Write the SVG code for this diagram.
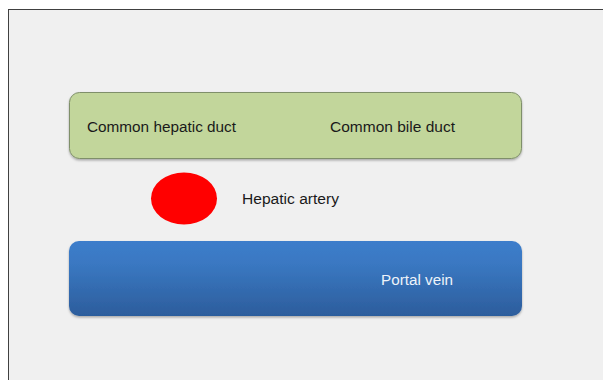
<svg xmlns="http://www.w3.org/2000/svg" width="603" height="380" viewBox="0 0 603 380">
<defs>
<linearGradient id="blue" x1="0" y1="0" x2="0" y2="1">
<stop offset="0" stop-color="#3c7dcb"/>
<stop offset="0.3" stop-color="#3a78c2"/>
<stop offset="1" stop-color="#2c5d9c"/>
</linearGradient>
<filter id="sh" x="-5%" y="-10%" width="110%" height="130%">
<feDropShadow dx="0" dy="1.5" stdDeviation="1.2" flood-color="#000" flood-opacity="0.3"/>
</filter>
</defs>
<style>
.t{font-family:"Liberation Sans",Arial,sans-serif;font-size:14.7px;fill:#1a1a1a}
</style>
<rect x="0" y="0" width="603" height="380" fill="#ffffff"/>
<rect x="8.5" y="9.5" width="600" height="380" fill="#f0f0f0" stroke="#404040" stroke-width="1"/>
<g id="bile-ducts">
<rect x="69.5" y="92.5" width="452" height="66" rx="10" fill="#c2d69b" stroke="#7f8f6a" stroke-width="1" filter="url(#sh)"/>
<text class="t" x="87" y="131.5" textLength="149" lengthAdjust="spacingAndGlyphs">Common hepatic duct</text>
<text class="t" x="330" y="131.5" textLength="125" lengthAdjust="spacingAndGlyphs">Common bile duct</text>
</g>
<g id="hepatic-artery">
<ellipse cx="184" cy="198.5" rx="33" ry="26" fill="#ff0000"/>
<text class="t" x="242" y="203.5" textLength="97" lengthAdjust="spacingAndGlyphs">Hepatic artery</text>
</g>
<g id="portal-vein">
<rect x="69" y="241" width="453" height="75" rx="10" fill="url(#blue)" filter="url(#sh)"/>
<text class="t" x="381" y="284.5" textLength="72" lengthAdjust="spacingAndGlyphs" style="fill:#eef3fa">Portal vein</text>
</g>
<g id="connectors"/>
</svg>
